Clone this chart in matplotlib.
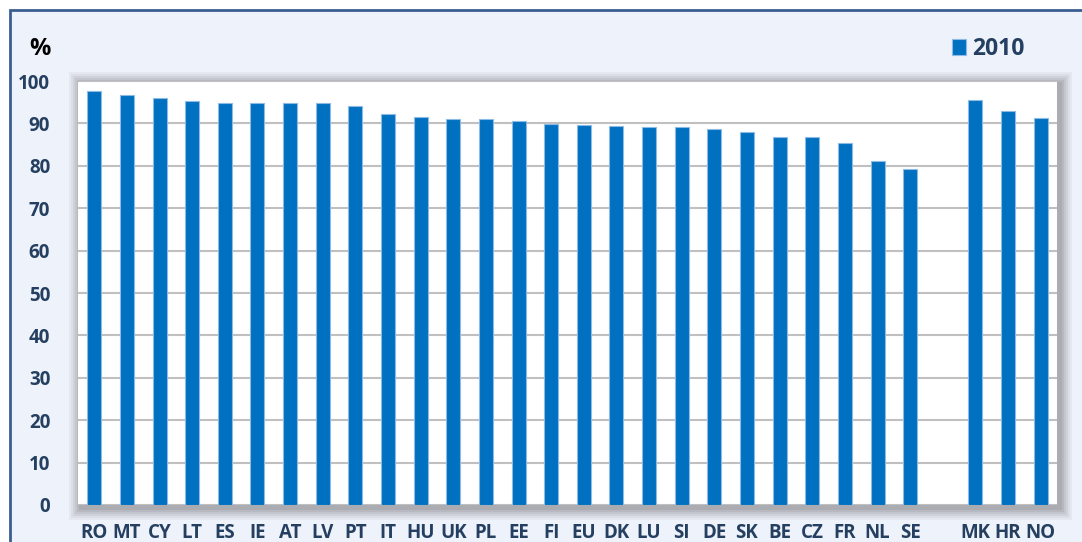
import matplotlib
matplotlib.use("Agg")
import matplotlib.pyplot as plt
from matplotlib.patches import Rectangle

categories = ["RO", "MT", "CY", "LT", "ES", "IE", "AT", "LV", "PT", "IT", "HU", "UK", "PL",
              "EE", "FI", "EU", "DK", "LU", "SI", "DE", "SK", "BE", "CZ", "FR", "NL", "SE",
              "", "MK", "HR", "NO"]
values_2010 = [97.6, 96.6, 95.9, 95.3, 94.9, 94.8, 94.8, 94.7, 94.0, 92.2, 91.6, 91.1, 91.0,
               90.6, 89.8, 89.6, 89.5, 89.2, 89.1, 88.6, 88.0, 86.9, 86.7, 85.4, 81.1, 79.3,
               None, 95.6, 92.9, 91.3]
yticks = [0, 10, 20, 30, 40, 50, 60, 70, 80, 90, 100]
series_label = "2010"

W, H = 1082, 542
fig = plt.figure(figsize=(W / 100, H / 100), dpi=100)
fig.patch.set_facecolor("white")

def px(x, y):
    return x / W, 1 - y / H

# outer panel
fig.patches.append(Rectangle((10 / W, -0.05), 1.1, 1 - 10 / H + 0.05, transform=fig.transFigure,
                             facecolor="#EEF2FA", edgecolor="#3B5E91", linewidth=2, zorder=0))

# plot area geometry (pixels)
L, T, R, B = 78, 81, 1057, 505
# soft shadow
for i, a in enumerate([0.05, 0.06, 0.07, 0.08, 0.09, 0.10]):
    g = 12 - 2 * i
    x0, y0 = px(L - g + 3, B + g + 3)
    x1, y1 = px(R + g + 3, T - g + 3)
    fig.patches.append(Rectangle((x0, y0), x1 - x0, y1 - y0, transform=fig.transFigure,
                                 facecolor="#404040", edgecolor="none", alpha=a, zorder=1))

ax = fig.add_axes([L / W, 1 - B / H, (R - L) / W, (B - T) / H], zorder=2)
ax.set_facecolor("white")

xs = [i for i, v in enumerate(values_2010) if v is not None]
vs = [v for v in values_2010 if v is not None]
bars = ax.bar(xs, vs, width=0.43, color="#0070C0", edgecolor="#8DBBE5", linewidth=0.8,
              zorder=3, label=series_label)

ax.set_xlim(-0.5, len(categories) - 0.5)
ax.set_ylim(0, 100)
ax.set_yticks(yticks)
ax.set_xticks(range(len(categories)))
ax.set_xticklabels(categories)
ax.yaxis.grid(True, color="#C0C0C0", linewidth=1.5, zorder=0)
ax.set_axisbelow(True)
for s in ax.spines.values():
    s.set_visible(False)
ax.tick_params(axis="both", length=0, labelsize=13.5, labelcolor="#243F60")
ax.tick_params(axis="y", pad=20)
ax.tick_params(axis="x", pad=13)
for lab in ax.get_xticklabels() + ax.get_yticklabels():
    lab.set_fontweight("bold")
    lab.set_fontfamily("Open Sans")

fig.text(*px(40, 49), "%", fontsize=17, fontweight="bold", color="black",
         ha="center", va="center", family="Open Sans")

leg = fig.legend(handles=[bars], labels=[series_label], loc="center",
                 bbox_to_anchor=px(988, 49), frameon=False, handlelength=0.65, handleheight=0.65,
                 handletextpad=0.25, prop={"family": "Open Sans", "weight": "bold", "size": 16.5})
for t in leg.get_texts():
    t.set_color("#243F60")

fig.savefig("out.png", dpi=100, facecolor=fig.get_facecolor())
